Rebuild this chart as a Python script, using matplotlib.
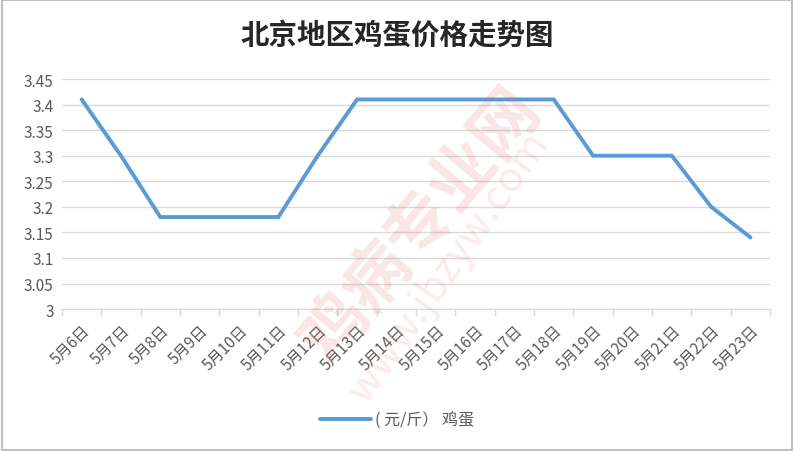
import numpy as np
import matplotlib.pyplot as plt
from matplotlib.patches import Rectangle

plt.rcParams['font.family'] = ['Noto Sans CJK SC', 'DejaVu Sans']

# data
dates = ['5月6日', '5月7日', '5月8日', '5月9日', '5月10日', '5月11日', '5月12日',
         '5月13日', '5月14日', '5月15日', '5月16日', '5月17日', '5月18日',
         '5月19日', '5月20日', '5月21日', '5月22日', '5月23日']
prices = [3.41, 3.30, 3.18, 3.18, 3.18, 3.18, 3.30, 3.41, 3.41, 3.41, 3.41,
          3.41, 3.41, 3.30, 3.30, 3.30, 3.20, 3.14]
yticks = [3, 3.05, 3.1, 3.15, 3.2, 3.25, 3.3, 3.35, 3.4, 3.45]
ytick_labels = ['3', '3.05', '3.1', '3.15', '3.2', '3.25', '3.3', '3.35', '3.4', '3.45']

fig = plt.figure(figsize=(7.94, 4.52), dpi=100)
ax = fig.add_axes([0.078, 0.314, 0.892, 0.509])

x = np.arange(len(dates))
ax.plot(x, prices, color='#5B9BD5', lw=2.8, solid_joinstyle='miter',
        solid_capstyle='round', label='( 元/斤） 鸡蛋', zorder=3)

ax.set_xlim(-0.5, len(dates) - 0.5)
ax.set_ylim(3, 3.45)
ax.set_yticks(yticks)
ax.set_yticklabels(ytick_labels, fontsize=11, color='#595959')
ax.yaxis.grid(True, color='#D9D9D9', lw=1)
ax.set_axisbelow(True)
ax.tick_params(axis='y', length=0, pad=6)

ax.set_xticks(x)
ax.set_xticklabels(dates, rotation=45, ha='right', va='top', fontsize=11,
                   color='#595959', rotation_mode='anchor')
ax.tick_params(axis='x', which='major', length=0, pad=9)
ax.set_xticks(np.arange(-0.5, len(dates)), minor=True)
ax.tick_params(axis='x', which='minor', length=5, color='#D9D9D9', width=1)

for s in ['top', 'right', 'left']:
    ax.spines[s].set_visible(False)
ax.spines['bottom'].set_color('#D9D9D9')

fig.text(0.5, 0.922, '北京地区鸡蛋价格走势图', ha='center', va='center',
         fontsize=20.5, fontweight='bold', color='#262626')

# watermark
fig.text(0.53, 0.50, '鸡病专业网', fontsize=48, fontweight='bold', rotation=50,
         color='#E06060', alpha=0.16, ha='center', va='center')
fig.text(0.565, 0.41, 'www.jbzyw.com', fontsize=30, rotation=55,
         color='#E06060', alpha=0.13, ha='center', va='center')

fig.legend(loc='center', bbox_to_anchor=(0.5, 0.068), frameon=False,
           fontsize=11.5, labelcolor='#595959', handlelength=3.2,
           handletextpad=0.3)

fig.patches.append(Rectangle((0.002, 0.002), 0.996, 0.996, transform=fig.transFigure,
                             fill=False, edgecolor='#BFBFBF', lw=1.5))

fig.savefig('out.png', dpi=100)
